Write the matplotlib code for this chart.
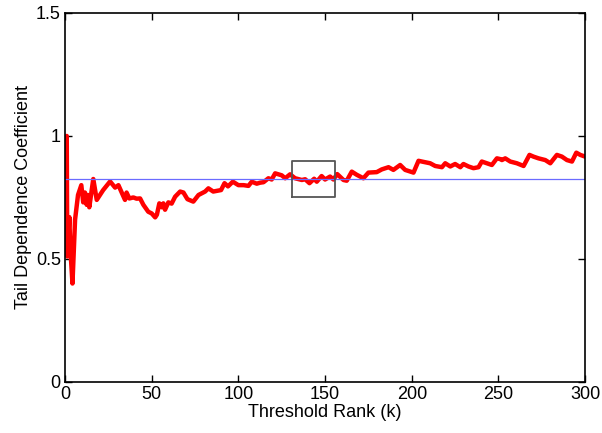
import matplotlib.pyplot as plt
import numpy as np

plt.rcParams['font.family'] = ['Liberation Sans', 'DejaVu Sans']

# threshold rank k and the estimated tail dependence coefficient
k = [1.0, 1.3, 2.5, 3.0, 4.3, 5.8, 7.5, 9.4, 10.5, 11.5, 12.5, 13.2, 14.0,
     16.3, 18.3, 22.0, 26.0, 28.9, 30.8, 32.7, 34.6, 35.5, 37.1, 39.4, 41.3,
     43.3, 45.2, 48.0, 50.0, 52.0, 53.0, 54.4, 55.8, 56.7, 57.7, 59.6, 61.5,
     63.5, 66.4, 68.3, 70.6, 74.0, 77.0, 80.8, 82.7, 85.5, 90.0, 92.0, 94.0,
     96.8, 100.0, 103.0, 105.8, 107.7, 110.6, 112.5, 114.5, 117.3, 119.2,
     121.2, 125.0, 127.0, 129.8, 132.7, 136.6, 138.5, 141.0, 143.7, 145.2,
     148.0, 150.0, 152.9, 154.8, 157.0, 160.6, 162.5, 165.4, 168.3, 172.1,
     175.0, 179.8, 182.7, 186.6, 189.4, 193.3, 196.2, 201.0, 203.9, 206.5,
     210.6, 213.5, 217.4, 219.3, 222.2, 225.0, 228.0, 229.8, 232.7, 235.6,
     238.5, 240.4, 243.3, 246.2, 249.1, 251.0, 252.0, 253.9, 256.8, 260.6,
     264.5, 267.9, 270.2, 273.1, 277.0, 279.9, 283.7, 286.6, 289.5, 292.4,
     294.9, 297.2, 300.0]
tdc = [1.00, 0.51, 0.67, 0.55, 0.40, 0.66, 0.76, 0.80, 0.73, 0.77, 0.72, 0.76,
       0.71, 0.825, 0.74, 0.78, 0.815, 0.79, 0.80, 0.77, 0.74, 0.77, 0.746,
       0.75, 0.745, 0.746, 0.72, 0.692, 0.685, 0.669, 0.68, 0.726, 0.71,
       0.726, 0.70, 0.73, 0.725, 0.753, 0.774, 0.77, 0.743, 0.733, 0.76,
       0.774, 0.787, 0.774, 0.78, 0.808, 0.795, 0.814, 0.80, 0.80, 0.797,
       0.814, 0.806, 0.81, 0.812, 0.828, 0.823, 0.848, 0.84, 0.828, 0.844,
       0.828, 0.821, 0.824, 0.808, 0.826, 0.814, 0.837, 0.823, 0.835, 0.823,
       0.845, 0.821, 0.818, 0.855, 0.842, 0.828, 0.851, 0.853, 0.864, 0.873,
       0.862, 0.882, 0.862, 0.851, 0.899, 0.895, 0.889, 0.878, 0.873, 0.889,
       0.876, 0.886, 0.873, 0.886, 0.876, 0.869, 0.873, 0.896, 0.889, 0.882,
       0.909, 0.906, 0.902, 0.909, 0.896, 0.889, 0.878, 0.923, 0.916, 0.909,
       0.902, 0.889, 0.923, 0.916, 0.902, 0.896, 0.932, 0.923, 0.916]

# chosen level and the stable region used to pick it
level = 0.825
box_k = (131, 156)
box_v = (0.753, 0.90)

fig = plt.figure(figsize=(6.02, 4.33), dpi=100)
ax = fig.add_axes([0.108, 0.118, 0.864, 0.852])

ax.plot(k, tdc, color='#ff0000', lw=3.2, solid_joinstyle='round',
        solid_capstyle='round')
ax.axhline(level, color='#6b6bff', lw=0.9)
ax.plot([box_k[0], box_k[1], box_k[1], box_k[0], box_k[0]],
        [box_v[0], box_v[0], box_v[1], box_v[1], box_v[0]],
        color='#555555', lw=1.3)

ax.set_xlim(0, 300)
ax.set_ylim(0, 1.5)
ax.set_xticks([0, 50, 100, 150, 200, 250, 300])
ax.set_yticks([0, 0.5, 1, 1.5])
ax.set_yticklabels(['0', '0.5', '1', '1.5'])
ax.tick_params(direction='in', top=True, right=True, length=5, width=1,
               labelsize=13, pad=3)
for s in ax.spines.values():
    s.set_linewidth(1.2)

ax.set_xlabel('Threshold Rank (k)', fontsize=13, labelpad=1)
ax.set_ylabel('Tail Dependence Coefficient', fontsize=13, labelpad=3)

fig.savefig('out.png', dpi=100)
